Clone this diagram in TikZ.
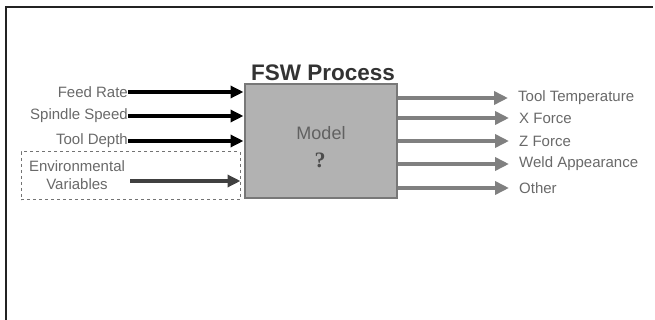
\documentclass[tikz,border=0pt]{standalone}
\usepackage{fontspec}
\setmainfont{Liberation Sans}
\newfontfamily\qserif{Liberation Serif}
\usetikzlibrary{arrows.meta}
\definecolor{lbl}{RGB}{105,105,105}
\definecolor{boxfill}{RGB}{178,178,178}
\definecolor{boxline}{RGB}{120,120,120}
\definecolor{outarr}{RGB}{128,128,128}
\definecolor{frame}{RGB}{35,35,35}
\tikzset{
  lab/.style={font=\fontsize{15}{17}\selectfont, text=lbl, inner sep=0pt},
  inarrow/.style={line width=3.5pt, black, -{Triangle[length=13pt,width=12pt]}},
  envarrow/.style={line width=3.5pt, black!75, -{Triangle[length=13pt,width=12pt]}},
  outarrow/.style={line width=4pt, outarr, -{Triangle[length=14pt,width=13pt]}},
}
\begin{document}
\begin{tikzpicture}[x=1pt,y=-1pt]
\useasboundingbox (0,0) rectangle (655,320);
% frame
\draw[frame, line width=2.5pt] (6,320) -- (6,7) -- (653,7);
% main box
\node[draw=boxline, line width=2pt, fill=boxfill, minimum width=152pt, minimum height=114pt, inner sep=0pt] (box) at (320.5,141) {};
\node[font=\fontsize{22.5}{24}\selectfont\bfseries, text=black!80, inner sep=0pt] (title) at (323,73) {FSW Process};
\node[font=\fontsize{18}{20}\selectfont, text=black!62, inner sep=0pt] (model) at (321,133) {Model};
\node[font=\fontsize{22}{24}\selectfont\qserif\bfseries, text=black!70, inner sep=0pt] (q) at (320,160) {?};
% dashed environment box
\node[draw=black!55, dashed, line width=1pt, minimum width=219pt, minimum height=48pt, inner sep=0pt] (env) at (130.5,176) {};
% input labels
\node[lab, anchor=east] (fr) at (128,92) {Feed Rate};
\node[lab, anchor=east] (ss) at (128,116) {Spindle Speed};
\node[lab, anchor=east] (td) at (128,141) {Tool Depth};
\node[lab, align=center] (ev) at (77,175) {Environmental\\[1pt]Variables};
\coordinate (evs) at (130,181);
% input arrows
\draw[inarrow] (fr.east) -- (fr.east -| box.west);
\draw[inarrow] (ss.east) -- (ss.east -| box.west);
\draw[inarrow] (td.east) -- (td.east -| box.west);
\draw[envarrow] (evs) -- (evs -| env.east);
% output labels
\node[lab, anchor=west] (tt) at (518,98) {Tool Temperature};
\node[lab, anchor=west] (xf) at (519,118) {X Force};
\node[lab, anchor=west] (zf) at (519,141) {Z Force};
\node[lab, anchor=west] (wa) at (519,164) {Weld Appearance};
\node[lab, anchor=west] (ot) at (519,188) {Other};
% output arrows
\foreach \n in {tt,xf,zf,wa,ot}
  \draw[outarrow] (\n.west -| box.east) -- ([xshift=-10pt]\n.west);
\end{tikzpicture}
\end{document}
